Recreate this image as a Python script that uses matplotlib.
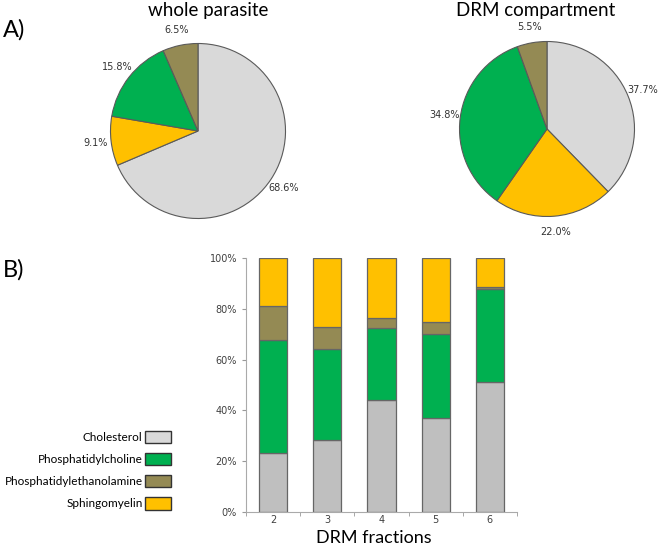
"""Lipid composition of whole parasite vs DRM, plus DRM fractions stacked bars."""

import matplotlib
matplotlib.use("Agg")
import matplotlib.pyplot as plt
from matplotlib.patches import Patch
import numpy as np

lipids = ["Cholesterol", "Phosphatidylcholine", "Phosphatidylethanolamine", "Sphingomyelin"]

# pies go clockwise from 12 o'clock: cholesterol, sphingomyelin, PC, PE
pie_order = ["Cholesterol", "Sphingomyelin", "Phosphatidylcholine", "Phosphatidylethanolamine"]
whole_parasite = [68.6, 9.1, 15.8, 6.5]
drm_compartment = [37.7, 22.0, 34.8, 5.5]

fractions = ["2", "3", "4", "5", "6"]
cholesterol = [23.3, 28.4, 44.2, 37.1, 51.1]
phosphatidylcholine = [44.5, 35.9, 28.2, 33.0, 36.7]
phosphatidylethanolamine = [13.4, 8.6, 3.8, 4.8, 0.8]
sphingomyelin = [18.8, 27.1, 23.8, 25.1, 11.4]

pie_colors = {
    "Cholesterol": "#D9D9D9",
    "Phosphatidylcholine": "#00B050",
    "Phosphatidylethanolamine": "#948A54",
    "Sphingomyelin": "#FFC000",
}
bar_colors = dict(pie_colors, Cholesterol="#BFBFBF")

W, H = 660, 545
fig = plt.figure(figsize=(W / 100, H / 100), dpi=100)
TXT = "Lato"


def px_axes(cx, cy, half):
    return fig.add_axes([(cx - half) / W, (H - cy - half) / H, 2 * half / W, 2 * half / H])


def draw_pie(ax, values):
    ax.pie(values, colors=[pie_colors[k] for k in pie_order], startangle=90,
           counterclock=False, autopct="%.1f%%", pctdistance=1.18,
           wedgeprops=dict(edgecolor="#5a5a5a", linewidth=0.8),
           textprops=dict(fontsize=7, color="#333333", family="DejaVu Sans"))
    ax.set_xlim(-1.4, 1.4)
    ax.set_ylim(-1.4, 1.4)
    ax.set_aspect("equal")
    ax.axis("off")


R = 87.5
draw_pie(px_axes(198, 131, 1.4 * R), whole_parasite)
draw_pie(px_axes(547, 129, 1.4 * R), drm_compartment)

fig.text(208 / W, 1 - 16 / H, "whole parasite", ha="center", va="baseline", fontsize=13.5, family=TXT)
fig.text(536 / W, 1 - 16 / H, "DRM compartment", ha="center", va="baseline", fontsize=13.5, family=TXT)
fig.text(3 / W, 1 - 37 / H, "A)", ha="left", va="baseline", fontsize=17, family=TXT)
fig.text(3 / W, 1 - 277 / H, "B)", ha="left", va="baseline", fontsize=17, family=TXT)

# stacked bars
ax = fig.add_axes([246 / W, (H - 512) / H, 271 / W, 254 / H])
x = np.arange(len(fractions))
bottom = np.zeros(len(fractions))
for name, vals in zip(lipids, [cholesterol, phosphatidylcholine, phosphatidylethanolamine, sphingomyelin]):
    ax.bar(x, vals, 0.52, bottom=bottom, color=bar_colors[name], edgecolor="#666666", linewidth=0.9)
    bottom += np.array(vals)

ax.set_xlim(-0.5, len(fractions) - 0.5)
ax.set_ylim(0, 100)
ax.set_yticks(np.arange(0, 101, 20))
ax.set_yticklabels([f"{v}%" for v in range(0, 101, 20)])
ax.set_xticks(x)
ax.set_xticklabels(fractions)
ax.set_xticks(np.arange(-0.5, len(fractions)), minor=True)
ax.tick_params(axis="x", which="major", length=0, pad=2)
ax.tick_params(axis="x", which="minor", length=3, color="#999999", direction="out")
ax.tick_params(axis="y", length=3, color="#999999", direction="out")
ax.tick_params(labelsize=7, labelcolor="#404040")
for s in ["top", "right"]:
    ax.spines[s].set_visible(False)
for s in ["left", "bottom"]:
    ax.spines[s].set_color("#aaaaaa")
ax.set_xlabel("DRM fractions", fontsize=13, family=TXT, va="baseline")
ax.xaxis.set_label_coords(0.47, -31 / 254)

handles = [Patch(facecolor=pie_colors[n], edgecolor="#333333", linewidth=1) for n in lipids]
leg = fig.legend(handles, lipids, loc="upper right", bbox_to_anchor=(171 / W, 1 - 431 / H),
                 frameon=False, markerfirst=False, borderpad=0, borderaxespad=0,
                 handlelength=2.2, handleheight=1.2, handletextpad=0.2, labelspacing=0.85,
                 prop=dict(family=TXT, size=8.5))

fig.savefig("out.png", dpi=100)
